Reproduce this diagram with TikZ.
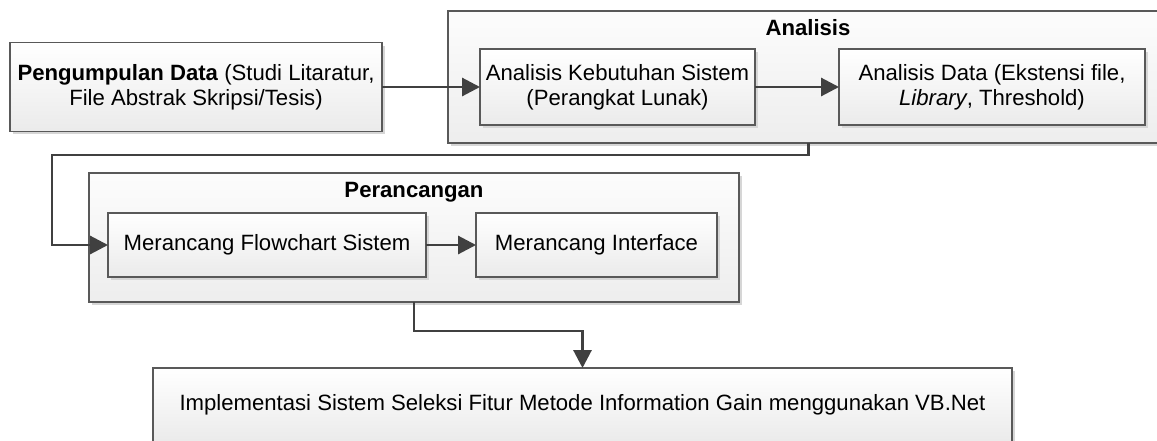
\documentclass[tikz,border=0pt]{standalone}
\usepackage{fontspec}
\setmainfont{Liberation Sans}
\usetikzlibrary{arrows.meta,shadows}

\begin{document}
\begin{tikzpicture}[
    x=0.02cm, y=-0.02cm,
    font=\fontsize{12.6}{14}\selectfont,
    block/.style={draw=black!65, line width=0.75pt, inner sep=0pt, outer sep=0pt, align=center,
        top color=white, bottom color=black!8,
        drop shadow={shadow xshift=0.06cm, shadow yshift=-0.06cm, fill=black!16, opacity=1}},
    group/.style={draw=black!65, line width=0.75pt, inner sep=0pt, outer sep=0pt,
        top color=black!1, bottom color=black!7,
        drop shadow={shadow xshift=0.06cm, shadow yshift=-0.06cm, fill=black!16, opacity=1}},
    grouptitle/.style={font=\fontsize{12.6}{14}\selectfont\bfseries},
    arr/.style={-{Triangle[length=0.36cm, width=0.36cm]}, draw=black!75, line width=1.7pt},
]
\useasboundingbox (0,0) rectangle (1157,440);

% --- Group containers ---
\node[group, minimum width=14.4cm, minimum height=2.64cm] (ana) at (808, 77) {};
\node[grouptitle] (anatitle) at (808, 28) {Analisis};
\node[group, minimum width=13cm, minimum height=2.58cm] (per) at (414, 237.5) {};
\node[grouptitle] (pertitle) at (414, 192) {Perancangan};

% --- Steps ---
\node[block, minimum width=7.44cm, minimum height=1.78cm] (pd) at (196, 87)
    {\textbf{Pengumpulan Data} (Studi Litaratur,\\File Abstrak Skripsi/Tesis)};
\node[block, minimum width=5.5cm, minimum height=1.52cm] (aks) at (617.5, 87)
    {Analisis Kebutuhan Sistem\\(Perangkat Lunak)};
\node[block, minimum width=6.12cm, minimum height=1.52cm] (ad) at (992, 87)
    {Analisis Data (Ekstensi file,\\\textit{Library}, Threshold)};
\node[block, minimum width=6.36cm, minimum height=1.28cm] (mfs) at (267, 245)
    {Merancang Flowchart Sistem};
\node[block, minimum width=4.82cm, minimum height=1.28cm] (mi) at (596.5, 245)
    {Merancang Interface};
\node[block, minimum width=17.18cm, minimum height=1.48cm] (impl) at (582.5, 405)
    {Implementasi Sistem Seleksi Fitur Metode Information Gain menggunakan VB.Net};

% === Arrows ===
\coordinate (back) at (52, 155);
\draw[arr] (pd) -- (aks);
\draw[arr] (aks) -- (ad);
\draw[arr] (ana.south) |- (back) |- (mfs.west);
\draw[arr] (mfs) -- (mi);
\draw[arr] (per.south) -- ++(0,29) -| (impl.north);

\end{tikzpicture}
\end{document}
